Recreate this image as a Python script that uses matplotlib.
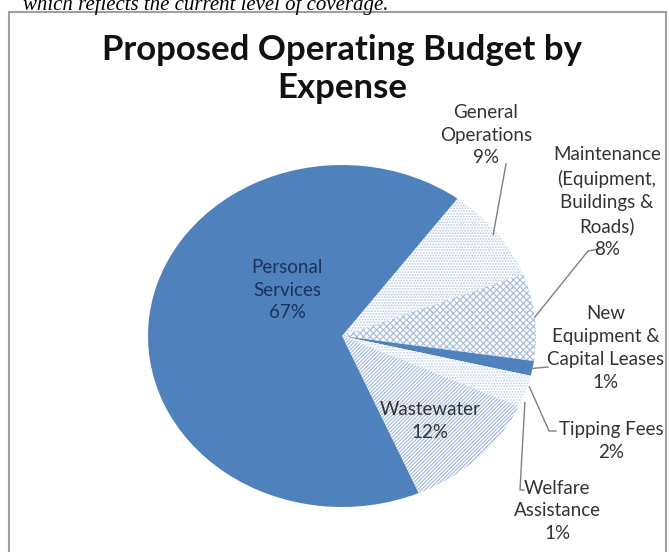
import matplotlib
matplotlib.use("Agg")
import matplotlib.pyplot as plt
from matplotlib.patches import Rectangle
import numpy as np

## Chart data
categories = ["General\nOperations", "Maintenance\n(Equipment,\nBuildings &\nRoads)",
              "New\nEquipment &\nCapital Leases", "Tipping Fees", "Welfare\nAssistance",
              "Wastewater", "Personal\nServices"]
shares = [9.0, 8.2, 1.4, 2.0, 1.0, 11.8, 66.6]
title_lines = ["Proposed Operating Budget by", "Expense"]
top_text = "which reflects the current level of coverage."

## Styles
blue = "#4f81bd"
face = ["white", "white", blue, "white", "white", "white", blue]
hatch_col = ["#b9c9e2", "#aabfdc", blue, "#c3d1e8", "#c3d1e8", "#a9bedc", blue]
hatches = ["......", "xxxxx", None, "......", "......", "/////////", None]

W, H = 669, 552
cx, cy, rx, ry = 342, 336, 194, 171   # pie ellipse in pixels

plt.rcParams['hatch.linewidth'] = 0.9
fig = plt.figure(figsize=(W/100, H/100), dpi=100)
ax = fig.add_axes([(cx-rx)/W, (H-cy-ry)/H, 2*rx/W, 2*ry/H])

wedges, _ = ax.pie(shares, startangle=53.5, counterclock=False, radius=1.0,
                   colors=face, wedgeprops=dict(linewidth=0))
for w, hc, h in zip(wedges, hatch_col, hatches):
    w.set_edgecolor(hc)
    if h:
        w.set_hatch(h)
ax.set_aspect('auto')
ax.set_xlim(-1, 1)
ax.set_ylim(-1, 1)
ax.axis('off')

def d(px, py):
    # pixel position -> data coords of the pie axes
    return (px - cx) / rx, (cy - py) / ry

def rim(w, r=1.0):
    a = np.deg2rad((w.theta1 + w.theta2) / 2)
    return r*np.cos(a), r*np.sin(a)

lab_col = "#333333"
font = "Lato"
fs = 13.5

def label(i, px, py, col=lab_col):
    txt = categories[i] + "\n" + "%.0f%%" % shares[i]
    x, y = d(px, py)
    ax.text(x, y, txt, ha='center', va='center', fontsize=fs, family=font,
            color=col, linespacing=1.42, clip_on=False)

label(0, 486, 135)
label(1, 607, 202)
label(2, 606, 348)
label(3, 611, 441)
label(4, 557, 511)
label(5, 430, 421)
label(6, 287, 290, col="#1b325c")

def leader(pts, w, r):
    xs = [d(*p)[0] for p in pts] + [rim(w, r)[0]]
    ys = [d(*p)[1] for p in pts] + [rim(w, r)[1]]
    ax.plot(xs, ys, color="#7f7f7f", lw=1.0, clip_on=False)

leader([(506, 164)], wedges[0], 0.98)
leader([(600, 249), (588, 251)], wedges[1], 1.0)
leader([(548, 367)], wedges[2], 1.0)
leader([(556, 431), (549, 431)], wedges[3], 1.01)
leader([(524, 490), (520, 490)], wedges[4], 1.02)

# title
for k, yy in enumerate([50, 88]):
    fig.text(cx/W, 1 - yy/H, title_lines[k], ha='center', va='center',
             fontsize=25, fontweight='bold', family=font, color='#111111')

# chart frame and cut-off document text above it
fig.add_artist(Rectangle((9/W, -0.05), (666-9)/W, (H-12)/H + 0.05,
                         transform=fig.transFigure, fill=False,
                         edgecolor="#a0a0a0", lw=1.5))
fig.text(23/W, 1 - 10/H, top_text, ha='left', va='baseline', fontsize=15,
         style='italic', family='Liberation Serif', color='black')

fig.savefig("out.png", dpi=100)
